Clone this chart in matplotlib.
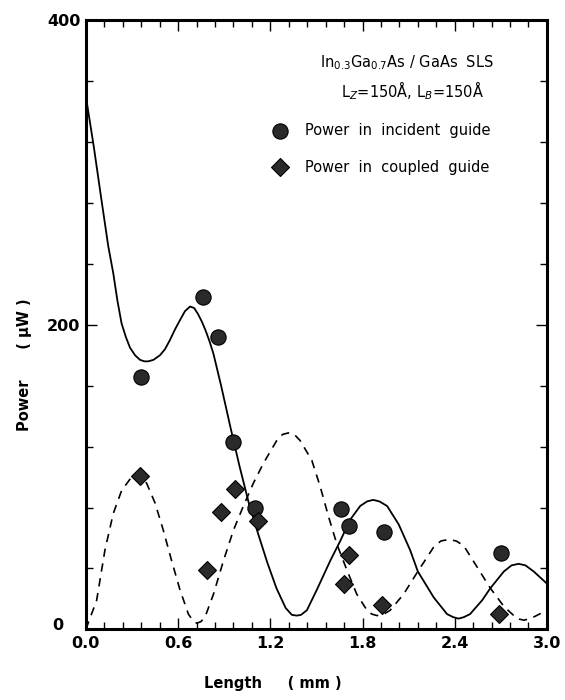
import numpy as np
import matplotlib
matplotlib.use("Agg")
import matplotlib.pyplot as plt
from matplotlib.ticker import MultipleLocator, FixedLocator
from matplotlib.transforms import ScaledTranslation

# mesures (points)
incident_x = [0.36, 0.76, 0.86, 0.96, 1.10, 1.66, 1.71, 1.94, 2.70]
incident_y = [166, 218, 192, 123, 80, 79, 68, 64, 50]
coupled_x = [0.35, 0.79, 0.88, 0.97, 1.12, 1.68, 1.71, 1.93, 2.69]
coupled_y = [101, 39, 77, 92, 71, 30, 49, 16, 10]

# courbes théoriques
theo_inc_x = [0.0, 0.05, 0.10, 0.145, 0.178, 0.205, 0.232, 0.26, 0.287, 0.32,
              0.352, 0.38, 0.406, 0.44, 0.482, 0.515, 0.547, 0.58, 0.612, 0.645,
              0.678, 0.705, 0.73, 0.755, 0.78, 0.805, 0.83, 0.88, 0.94, 1.00,
              1.06, 1.12, 1.18, 1.24, 1.30, 1.34, 1.372, 1.40, 1.438, 1.503,
              1.59, 1.655, 1.72, 1.785, 1.83, 1.87, 1.91, 1.96, 2.035, 2.11,
              2.16, 2.263, 2.35, 2.39, 2.425, 2.46, 2.50, 2.578, 2.632, 2.72,
              2.77, 2.816, 2.86, 2.914, 3.0]
theo_inc_y = [350, 318, 283, 252, 234, 216, 201, 192, 185, 180,
              177, 176, 176, 177, 180, 184, 190, 197, 203, 209,
              212, 211, 207, 202, 196, 189, 181, 160, 133, 107,
              83, 63, 44, 27, 14, 9.5, 9, 9.5, 12.5, 26,
              45, 58, 72, 81, 84, 85, 84, 81, 69, 52,
              38, 21, 10, 8, 7, 8, 10, 19, 27, 38,
              42, 43, 42, 38, 30]
theo_cpl_x = [0.0, 0.07, 0.124, 0.178, 0.232, 0.297, 0.325, 0.352, 0.395, 0.45,
              0.504, 0.558, 0.612, 0.667, 0.695, 0.721, 0.748, 0.775, 0.83, 0.895,
              0.96, 1.025, 1.09, 1.155, 1.242, 1.28, 1.318, 1.356, 1.394, 1.47,
              1.524, 1.579, 1.633, 1.698, 1.763, 1.829, 1.86, 1.894, 1.94, 1.98,
              2.067, 2.16, 2.263, 2.31, 2.36, 2.41, 2.458, 2.545, 2.632, 2.72,
              2.806, 2.85, 2.893, 3.0]
theo_cpl_y = [0, 19, 52, 76, 91, 100, 102, 102, 96, 83,
              65, 45, 26, 10, 6, 4, 5, 8, 23, 45,
              65, 81, 96, 109, 124, 128, 129, 128, 124, 111,
              94, 74, 56, 39, 23, 12.5, 10, 9, 10, 12.5,
              23, 38, 54, 58, 59, 58, 55, 41, 27, 15,
              7, 6, 7, 12.5]

xticks = [0.0, 0.6, 1.2, 1.8, 2.4, 3.0]
xticklabels = ["0.0", "0.6", "1.2", "1.8", "2.4", "3.0"]
yticks = [0, 200, 400]
yticklabels = ["0", "200", "400"]

fig = plt.figure(figsize=(5.65, 7.0), dpi=100)
ax = fig.add_axes([0.152, 0.101, 0.816, 0.870])

ax.plot(theo_inc_x, theo_inc_y, color="black", lw=1.3)
ax.plot(theo_cpl_x, theo_cpl_y, color="black", lw=1.2, ls=(0, (5, 4)))

ax.plot(incident_x, incident_y, "o", ms=11, mfc="#2a2a2a", mec="black", mew=0.8)
ax.plot(coupled_x, coupled_y, "D", ms=9, mfc="#2a2a2a", mec="black", mew=0.8)

ax.set_xlim(0, 3.0)
ax.set_ylim(0, 400)
ax.xaxis.set_major_locator(FixedLocator(xticks))
ax.set_xticklabels(xticklabels)
ax.xaxis.set_minor_locator(MultipleLocator(0.12))
ax.yaxis.set_major_locator(FixedLocator(yticks))
ax.set_yticklabels(yticklabels)
ax.yaxis.set_minor_locator(MultipleLocator(40))
ax.tick_params(which="both", direction="in", top=True, right=True, width=1.0)
ax.tick_params(which="major", length=8, labelsize=11.5, pad=4)
ax.tick_params(axis="x", which="major", pad=5)
ax.tick_params(which="minor", length=5)
for lab in ax.get_xticklabels() + ax.get_yticklabels():
    lab.set_fontweight("bold")
# le "0" de l'axe y est décalé vers la gauche et vers le haut
lab0 = ax.get_yticklabels()[0]
lab0.set_transform(lab0.get_transform() + ScaledTranslation(-12 / 72, 4 / 72, fig.dpi_scale_trans))
for sp in ax.spines.values():
    sp.set_linewidth(2.2)

# légende faite à la main
ax.plot([0.421], [0.819], "o", ms=11, mfc="#2a2a2a", mec="black", mew=0.8,
        transform=ax.transAxes, clip_on=False)
ax.plot([0.421], [0.759], "D", ms=9, mfc="#2a2a2a", mec="black", mew=0.8,
        transform=ax.transAxes, clip_on=False)
ax.text(0.475, 0.819, "Power  in  incident  guide", transform=ax.transAxes,
        fontsize=10.5, va="center", ha="left")
ax.text(0.475, 0.759, "Power  in  coupled  guide", transform=ax.transAxes,
        fontsize=10.5, va="center", ha="left")

ax.text(0.696, 0.931, r"In$_{0.3}$Ga$_{0.7}$As / GaAs  SLS", transform=ax.transAxes,
        fontsize=10.5, va="center", ha="center")
ax.text(0.709, 0.885, r"L$_Z$=150Å, L$_B$=150Å", transform=ax.transAxes,
        fontsize=10.5, va="center", ha="center")

fig.text(0.044, 0.479, "Power      ( μW )", rotation=90, fontsize=10.5,
         fontweight="bold", va="center", ha="center")
fig.text(0.482, 0.024, "Length     ( mm )", fontsize=10.5, fontweight="bold",
         va="center", ha="center")

fig.savefig("out.png", dpi=100)
